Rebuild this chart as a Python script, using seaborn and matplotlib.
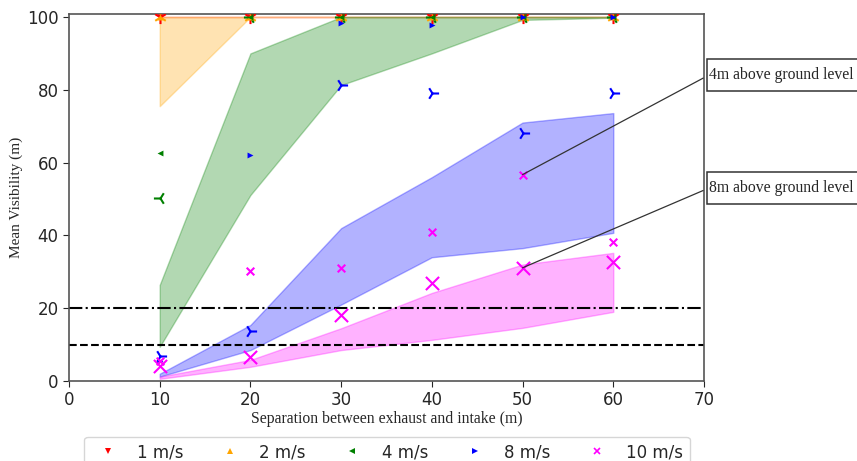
import matplotlib
matplotlib.use("Agg")
import matplotlib.pyplot as plt
import seaborn as sns
import numpy as np
from matplotlib.lines import Line2D
from matplotlib.patches import Rectangle

sns.set_style("white")

sep = [10, 20, 30, 40, 50, 60]
speeds = ["1 m/s", "2 m/s", "4 m/s", "8 m/s", "10 m/s"]
colors = ["red", "orange", "green", "blue", "magenta"]

# 4 m above ground level (small markers)
vis4_1 = [100, 100, 100, 100, 100, 100]
vis4_2 = [100, 100, 100, 100, 100, 100]
vis4_4 = [62.5, 100, 100, 100, 100, 100]
vis4_8 = [5.5, 62.1, 98.4, 97.8, 100, 100]
vis4_10 = [5.6, 30.3, 31.1, 40.8, 56.7, 38.3]

# 8 m above ground level (large markers)
vis8_1 = [100, 100, 100, 100, 100, 100]
vis8_2 = [100, 100, 100, 100, 100, 100]
vis8_4 = [50.3, 100, 100, 100, 100, 100]
vis8_8 = [6.9, 13.8, 81.3, 79.1, 68.1, 79.2]
vis8_10 = [4.0, 6.7, 18.1, 27.0, 31.1, 32.8]

# shaded ranges
low_1 = [100, 100, 100, 100, 100, 100]
high_1 = [100, 100, 100, 100, 100, 100]
low_2 = [75.5, 100, 100, 100, 100, 100]
high_2 = [100, 100, 100, 100, 100, 100]
low_4 = [9.4, 51.1, 81.3, 90.0, 99.2, 99.8]
high_4 = [26.4, 90.0, 100, 100, 100, 100]
low_8 = [1.2, 8.5, 21.0, 34.0, 36.5, 40.7]
high_8 = [2.0, 15.4, 42.0, 56.0, 71.0, 73.6]
low_10 = [0.6, 3.9, 8.5, 11.3, 14.6, 19.0]
high_10 = [1.2, 5.8, 14.5, 24.2, 32.0, 35.2]

fig = plt.figure(figsize=(8.57, 4.61), dpi=100)
ax = fig.add_axes([0.0805, 0.1735, 0.741, 0.796])

lows = [low_1, low_2, low_4, low_8, low_10]
highs = [high_1, high_2, high_4, high_8, high_10]
for lo, hi, c in zip(lows, highs, colors):
    ax.fill_between(sep, lo, hi, color=c, alpha=0.3, linewidth=1)

small_m = ["v", "^", "<", ">", "x"]
large_m = ["1", "2", "3", "4", "x"]
v4 = [vis4_1, vis4_2, vis4_4, vis4_8, vis4_10]
v8 = [vis8_1, vis8_2, vis8_4, vis8_8, vis8_10]
for vals, m, c in zip(v8, large_m, colors):
    sns.scatterplot(x=sep, y=vals, marker=m, color=c, s=90, linewidth=1.5, ax=ax, zorder=3)
for vals, m, c in zip(v4, small_m, colors):
    sns.scatterplot(x=sep, y=vals, marker=m, color=c, s=18 if m != "x" else 30,
                    linewidth=1.5 if m == "x" else 0, ax=ax, zorder=4)

ax.axhline(20, color="black", linestyle="-.", linewidth=1.5)
ax.axhline(10, color="black", linestyle="--", linewidth=1.5)

ax.set_xlim(0, 70)
ax.set_ylim(0, 100.8)
ax.set_xticks([0, 10, 20, 30, 40, 50, 60, 70])
ax.set_yticks([0, 20, 40, 60, 80, 100])
ax.tick_params(axis="both", labelsize=12, length=4, direction="out", left=True, bottom=True)
for s in ax.spines.values():
    s.set_color("#555555")
    s.set_linewidth(1.2)

serif = ["Liberation Serif", "DejaVu Serif"]
ax.set_xlabel("Separation between exhaust and intake (m)", fontsize=11.3, family=serif, labelpad=1)
ax.set_ylabel("Mean Visibility (m)", fontsize=11, family=serif, labelpad=3)

# annotation boxes (figure pixels), drawn beneath the axes content
for top, bottom in [(59, 91), (172, 204)]:
    fig.patches.append(Rectangle((707, 461 - bottom), 160, bottom - top, transform=None,
                                 fc="white", ec="#333333", lw=1.1, zorder=-1))

ax.annotate("4m above ground level", xy=(50, 56.7), xycoords="data",
            xytext=(709, 461 - 75), textcoords="figure pixels", ha="left", va="center",
            fontsize=11.3, family=serif, annotation_clip=False, zorder=6,
            arrowprops=dict(arrowstyle="-", color="#333333", lw=0.9, relpos=(0, 0.5),
                            shrinkA=2, shrinkB=0))
ax.annotate("8m above ground level", xy=(50, 31.1), xycoords="data",
            xytext=(709, 461 - 188), textcoords="figure pixels", ha="left", va="center",
            fontsize=11.3, family=serif, annotation_clip=False, zorder=6,
            arrowprops=dict(arrowstyle="-", color="#333333", lw=0.9, relpos=(0, 0.5),
                            shrinkA=2, shrinkB=0))

handles = [Line2D([], [], linestyle="none", marker=m, color=c, markersize=4,
                  markeredgewidth=1.2 if m == "x" else 0)
           for m, c in zip(small_m, colors)]
fig.legend(handles, speeds, loc="upper center", bbox_to_anchor=(0.4516, 0.053),
           ncol=5, fontsize=12, frameon=True, fancybox=True, handletextpad=0.75,
           columnspacing=1.8, borderaxespad=0)

fig.savefig("out.png", dpi=100)
